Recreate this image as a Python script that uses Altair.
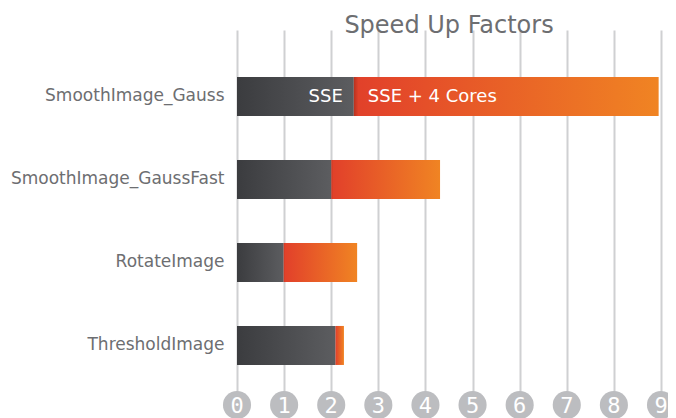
import altair as alt
import pandas as pd

categories = ["SmoothImage_Gauss", "SmoothImage_GaussFast", "RotateImage", "ThresholdImage"]
sse = [2.48, 2.0, 0.99, 2.09]
sse_4cores = [8.95, 4.31, 2.55, 2.27]
ticks = [0, 1, 2, 3, 4, 5, 6, 7, 8, 9]
title_text = "Speed Up Factors"
label_sse = "SSE"
label_cores = "SSE + 4 Cores"

df = pd.DataFrame({"task": categories, "sse": sse, "cores": sse_4cores, "zero": [0] * len(categories)})
tick_df = pd.DataFrame({"t": ticks, "lab": [str(t) for t in ticks]})
lab_df = pd.DataFrame({"task": [categories[0]], "sse": [sse[0]], "a": [label_sse], "b": [label_cores]})
title_df = pd.DataFrame({"title": [title_text]})

GRAY = "#6d6e71"
x_scale = alt.Scale(domain=[0, 9], nice=False, zero=True)
y_scale = alt.Scale(paddingInner=0.53, paddingOuter=0.464, align=0.61)

y_axis = alt.Axis(title=None, domain=False, ticks=False, tickSize=0, labelPadding=13, labelLimit=400,
                  labelFont="DejaVu Sans", labelFontSize=17, labelColor=GRAY)
x_axis = alt.Axis(title=None, labels=False, ticks=False, domain=False, grid=True,
                  gridColor="#cfd0d2", gridWidth=2, values=ticks)

gray_grad = alt.Gradient(gradient="linear", x1=0, y1=0, x2=1, y2=0,
                         stops=[alt.GradientStop(color="#3b3c3f", offset=0),
                                alt.GradientStop(color="#5c5d60", offset=1)])
orange_grad = alt.Gradient(gradient="linear", x1=0, y1=0, x2=1, y2=0,
                           stops=[alt.GradientStop(color="#b8321f", offset=0),
                                  alt.GradientStop(color="#e1412a", offset=0.015),
                                  alt.GradientStop(color="#e3462a", offset=0.1),
                                  alt.GradientStop(color="#f08423", offset=1)])

base = alt.Chart(df)
gray_bars = base.mark_bar(color=gray_grad).encode(
    x=alt.X("zero:Q", scale=x_scale, axis=x_axis),
    x2="sse:Q",
    y=alt.Y("task:N", sort=categories, scale=y_scale, axis=y_axis),
)
orange_bars = base.mark_bar(color=orange_grad).encode(
    x=alt.X("sse:Q", scale=x_scale),
    x2="cores:Q",
    y=alt.Y("task:N", sort=categories),
)

lab_base = alt.Chart(lab_df)
text_a = lab_base.mark_text(align="right", baseline="middle", dx=-11, dy=1, font="DejaVu Sans",
                            fontSize=18, color="white").encode(
    x=alt.X("sse:Q", scale=x_scale), y=alt.Y("task:N", sort=categories), text="a:N")
text_b = lab_base.mark_text(align="left", baseline="middle", dx=14, dy=1, font="DejaVu Sans",
                            fontSize=18, color="white").encode(
    x=alt.X("sse:Q", scale=x_scale), y=alt.Y("task:N", sort=categories), text="b:N")

tick_base = alt.Chart(tick_df)
circles = tick_base.mark_circle(color="#bcbdc0", opacity=1, size=790).encode(
    x=alt.X("t:Q", scale=x_scale), y=alt.value(375))
digits = tick_base.mark_text(font="DejaVu Sans Mono", fontSize=22, color="white",
                             baseline="alphabetic").encode(
    x=alt.X("t:Q", scale=x_scale), y=alt.value(383), text="lab:N")

title = alt.Chart(title_df).mark_text(font="DejaVu Sans", fontSize=24, color=GRAY,
                                      align="center", baseline="alphabetic").encode(
    x=alt.value(212), y=alt.value(3), text="title:N")

chart = alt.layer(gray_bars, orange_bars, text_a, text_b, circles, digits, title).properties(
    width=424, height=365,
    autosize=alt.AutoSizeParams(type="none"),
    padding={"left": 229, "top": 22, "right": 7, "bottom": 23},
    background="white",
).configure_view(stroke=None)

chart.save("out.html", embed_options={"renderer": "svg", "actions": False})
